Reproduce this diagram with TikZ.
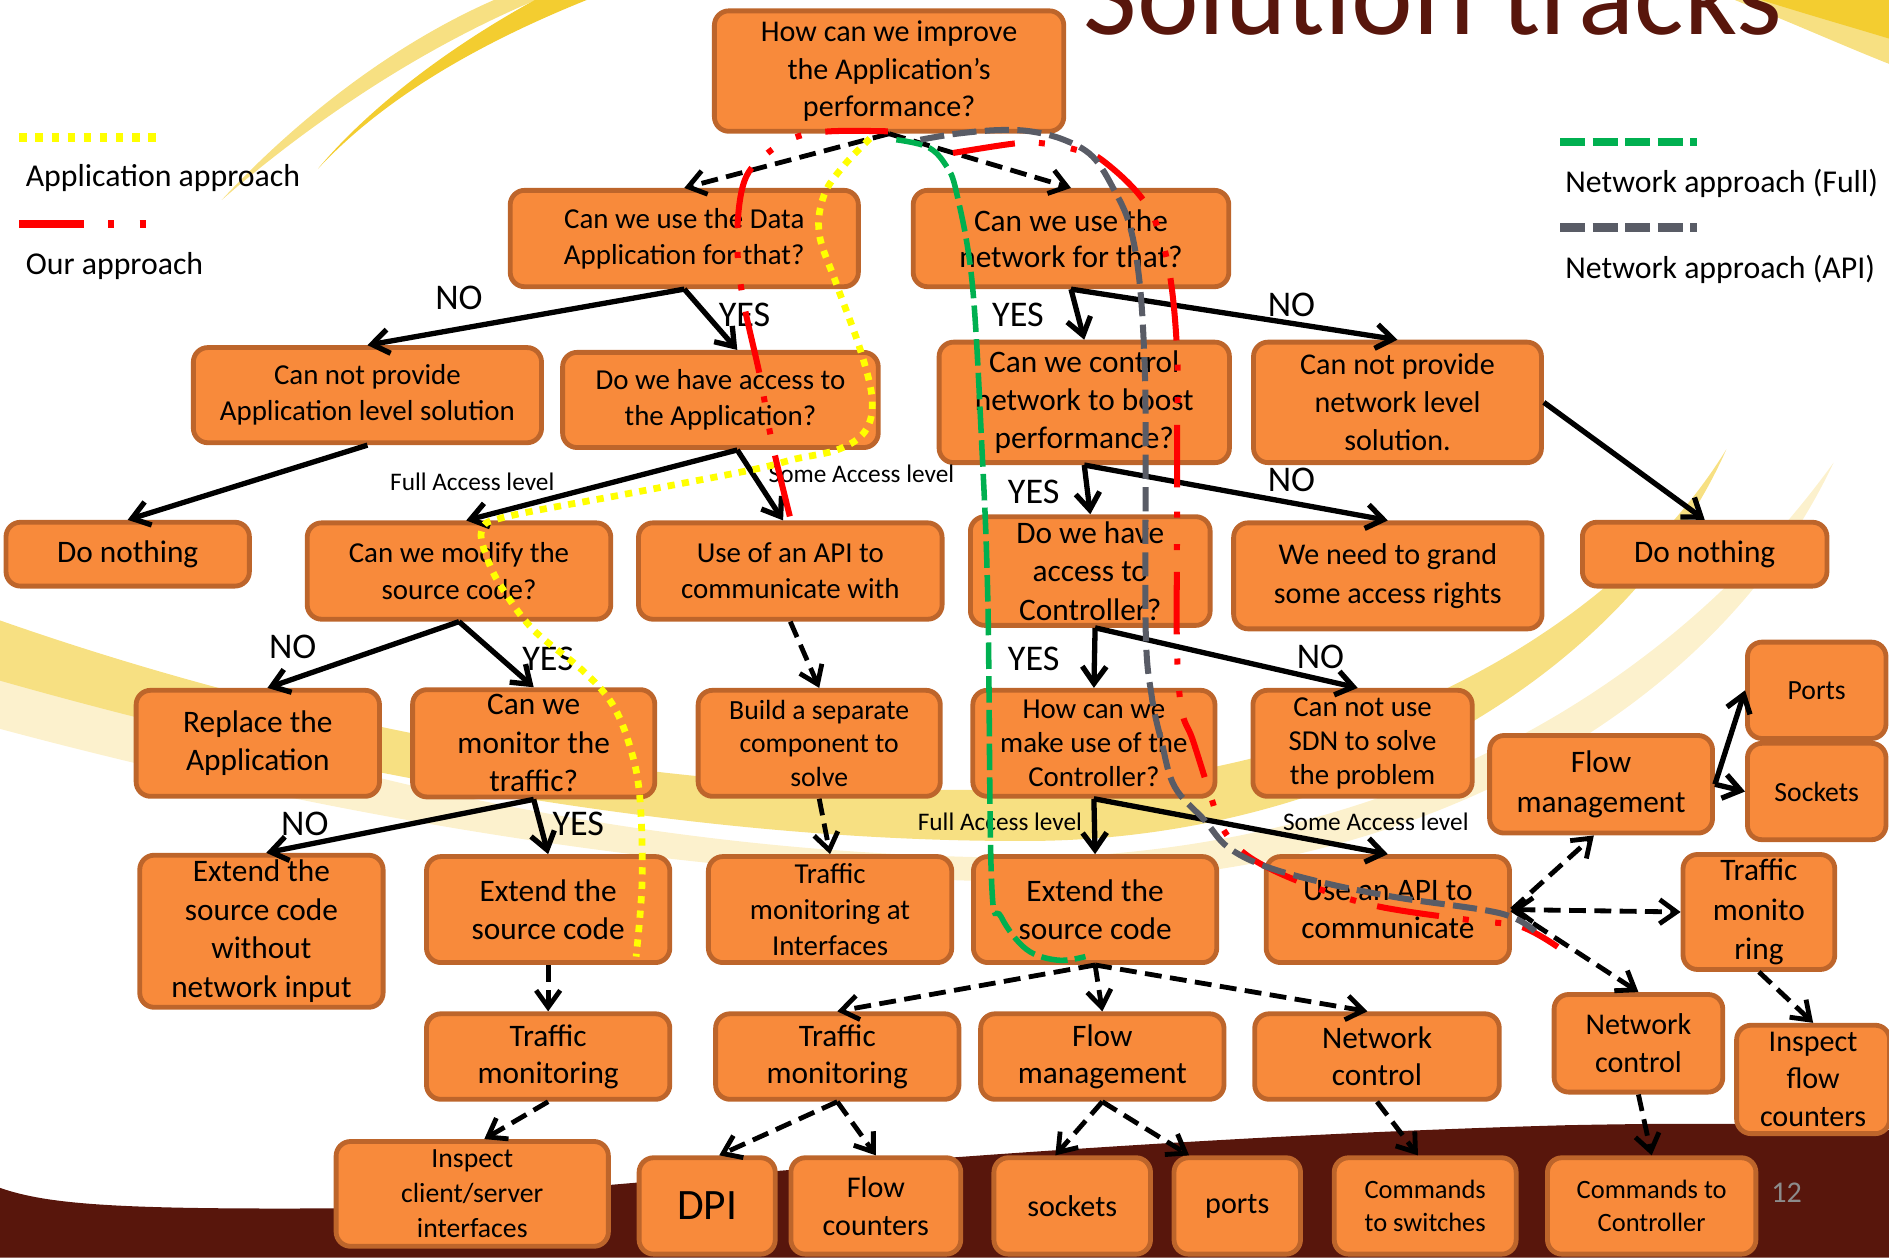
\documentclass[tikz,border=0pt]{standalone}
\usepackage{fontspec}
\setmainfont{Carlito}
\usepackage{tikz}
\usetikzlibrary{arrows.meta,arrows}
\definecolor{boxfill}{RGB}{248,138,59}
\definecolor{boxline}{RGB}{189,101,43}
\definecolor{darkbrown}{RGB}{88,22,12}
\definecolor{swooshdark}{RGB}{243,205,48}
\definecolor{swooshlight}{RGB}{247,224,130}
\definecolor{swooshpale}{RGB}{252,241,205}
\definecolor{appyellow}{RGB}{255,255,0}
\definecolor{ourred}{RGB}{255,0,0}
\definecolor{fullgreen}{RGB}{0,176,80}
\definecolor{apigray}{RGB}{89,92,102}
\definecolor{pagegray}{RGB}{140,140,140}
\tikzset{
  fs/.style 2 args={font=\fontsize{#1}{#2}\selectfont},
  box/.style={draw=boxline, fill=boxfill, line width=2pt, rounded corners=6pt,
    align=center, inner sep=2pt, fs={12}{15}},
  yesno/.style={inner sep=0pt, fs={15}{18}},
  lvl/.style={inner sep=0pt, fs={10.5}{12}},
  legtxt/.style={inner sep=0pt, anchor=west, fs={13.2}{15}},
  solidarr/.style={line width=2.2pt, ->},
  dasharr/.style={line width=2pt, dash pattern=on 7pt off 3.5pt, ->},
  dasharrboth/.style={line width=2pt, dash pattern=on 7pt off 3.5pt, <->},
  apppath/.style={appyellow, line width=2.8pt, dash pattern=on 3pt off 3pt},
  ourpath/.style={ourred, line width=2.5pt, dash pattern=on 26pt off 10pt on 2.5pt off 11pt on 2.5pt off 9pt},
  fullpath/.style={fullgreen, line width=2.3pt, dash pattern=on 11pt off 3pt},
  apipath/.style={apigray, line width=2.5pt, dash pattern=on 10pt off 3.5pt}
}
\begin{document}
\begin{tikzpicture}[x=0.5pt, y=-0.5pt, >={Straight Barb[length=7pt,width=10pt]}]
\useasboundingbox (0,0) rectangle (1568,1044);
\clip (0,0) rectangle (1568,1044);

% background
\fill[swooshlight] (184,166) .. controls (250,95) and (330,35) .. (410,0) -- (445,0) .. controls (350,40) and (260,100) .. (184,166) -- cycle;
\fill[swooshdark] (264,140) .. controls (310,85) and (380,35) .. (444,0) -- (487,0) .. controls (400,35) and (320,80) .. (264,140) -- cycle;
\fill[swooshlight] (1440,0) .. controls (1490,20) and (1530,38) .. (1568,53) -- (1568,0) -- cycle;
\fill[swooshdark] (1462,0) .. controls (1500,12) and (1535,22) .. (1568,32) -- (1568,0) -- cycle;
\fill[swooshpale] (0,545) .. controls (300,665) and (600,712) .. (860,712) .. controls (1150,705) and (1380,580) .. (1522,384) .. controls (1420,600) and (1160,735) .. (860,732) .. controls (580,730) and (280,680) .. (0,605) -- cycle;
\fill[swooshlight] (0,515) .. controls (300,620) and (600,662) .. (860,655) .. controls (1100,645) and (1330,540) .. (1433,373) .. controls (1350,560) and (1120,695) .. (860,698) .. controls (600,700) and (300,650) .. (0,565) -- cycle;
\fill[darkbrown] (0,986) .. controls (40,1000) and (100,1004) .. (280,1003) .. controls (500,985) and (900,945) .. (1300,934) .. controls (1450,931) and (1520,934) .. (1568,938) -- (1568,1044) -- (0,1044) -- cycle;

\node[anchor=base west, inner sep=0pt, text=darkbrown, fs={48.5}{48.5}] (title) at (899,29) {Solution tracks};
\node[text=pagegray, inner sep=0pt, fs={12.5}{15}] (pageno) at (1483,990) {12};

% legend
\draw[appyellow, line width=3.5pt, dash pattern=on 3pt off 3.7pt] (16,114) -- (130,114);
\node[legtxt] (applegend) at (21,148) {Application approach};
\draw[ourred, line width=3.5pt, dash pattern=on 27pt off 10pt on 2.5pt off 10.5pt on 2.5pt off 20pt] (16,186) -- (122,186);
\node[legtxt] (ourlegend) at (21,221) {Our approach};
\draw[fullgreen, line width=3.5pt, dash pattern=on 10.5pt off 3pt on 10.5pt off 3pt on 10.5pt off 3pt on 10.5pt off 3pt on 3pt off 10pt] (1295,118) -- (1409,118);
\node[legtxt] (fulllegend) at (1299,152) {Network approach (Full)};
\draw[apigray, line width=3.5pt, dash pattern=on 10.5pt off 3pt on 10.5pt off 3pt on 10.5pt off 3pt on 10.5pt off 3pt on 3pt off 10pt] (1295,189) -- (1409,189);
\node[legtxt] (apilegend) at (1299,224) {Network approach (API)};

% boxes
\node[box, fs={12.5}{15.75}, minimum width=145pt, minimum height=50pt] (top) at (738,59) {How can we improve\\the Application’s\\performance?};
\node[box, minimum width=144.5pt, minimum height=40pt] (dataapp) at (568,198) {Can we use the Data\\Application for that?};
\node[box, fs={13}{15}, minimum width=131pt, minimum height=40pt] (netuse) at (889,198) {Can we use the\\network for that?};
\node[box, fs={12}{15}, minimum width=144.5pt, minimum height=39.5pt] (noapp) at (305,328) {Can not provide\\Application level solution};
\node[box, minimum width=131pt, minimum height=39.5pt] (access) at (598,332) {Do we have access to\\the Application?};
\node[box, fs={13}{15.75}, minimum width=120.5pt, minimum height=50pt] (control) at (900,334) {Can we control\\network to boost\\performance?};
\node[box, fs={12.5}{15.75}, minimum width=119.5pt, minimum height=50pt] (nonet) at (1160,334) {Can not provide\\network level\\solution.};
\node[box, fs={13}{16}, minimum width=101pt, minimum height=26.5pt] (nothing1) at (106,460) {Do nothing};
\node[box, minimum width=126pt, minimum height=40pt] (modify) at (381,474) {Can we modify the\\source code?};
\node[box, minimum width=126pt, minimum height=40pt] (useapi) at (656,474) {Use of an API to\\communicate with};
\node[box, fs={13}{16}, minimum width=99.5pt, minimum height=45pt] (ctrlaccess) at (905,474) {Do we have\\access to\\Controller?};
\node[box, fs={12.5}{16}, minimum width=128pt, minimum height=44pt] (grant) at (1152,478) {We need to grand\\some access rights};
\node[box, fs={13}{16}, minimum width=101.5pt, minimum height=26.5pt] (nothing2) at (1415,460) {Do nothing};
\node[box, fs={13}{15.5}, minimum width=101pt, minimum height=44pt] (replace) at (214,617) {Replace the\\Application};
\node[box, fs={13}{16}, minimum width=100.5pt, minimum height=44pt] (monitor) at (443,617) {Can we\\monitor the\\traffic?};
\node[box, fs={11.5}{14}, minimum width=100.5pt, minimum height=44pt] (build) at (680,617) {Build a separate\\component to\\solve};
\node[box, fs={12}{14.25}, minimum width=100.5pt, minimum height=44pt] (makeuse) at (908,617) {How can we\\make use of the\\Controller?};
\node[box, fs={12}{14.25}, minimum width=91pt, minimum height=44pt] (nosdn) at (1131,617) {Can not use\\SDN to solve\\the problem};
\node[box, fs={13}{16.5}, minimum width=92.5pt, minimum height=40.5pt] (flowmgmt2) at (1329,651) {Flow\\management};
\node[box, fs={11.5}{14}, minimum width=57.5pt, minimum height=40pt] (ports) at (1508,573) {Ports};
\node[box, fs={11.5}{14}, minimum width=57.5pt, minimum height=40pt] (sockets) at (1508,657) {Sockets};
\node[box, fs={13}{16}, minimum width=101pt, minimum height=62.5pt] (extnonet) at (217,773) {Extend the\\source code\\without\\network input};
\node[box, fs={13}{16}, minimum width=101pt, minimum height=44pt] (extend1) at (455,755) {Extend the\\source code};
\node[box, fs={12}{14.75}, minimum width=101pt, minimum height=44pt] (trafint) at (689,755) {Traffic\\monitoring at\\Interfaces};
\node[box, fs={13}{16}, minimum width=101pt, minimum height=44pt] (extend2) at (909,755) {Extend the\\source code};
\node[box, fs={13}{16}, minimum width=101pt, minimum height=44pt] (useapi2) at (1152,755) {Use an API to\\communicate};
\node[box, fs={13}{16.25}, minimum width=63pt, minimum height=46.5pt] (trafmon3) at (1460,757) {Traffic\\monito\\ring};
\node[box, fs={13}{15.5}, minimum width=101pt, minimum height=35.5pt] (trafmon1) at (455,877) {Traffic\\monitoring};
\node[box, fs={13}{15.5}, minimum width=101pt, minimum height=35.5pt] (trafmon2) at (695,877) {Traffic\\monitoring};
\node[box, fs={13}{15.5}, minimum width=101pt, minimum height=35.5pt] (flowmgmt) at (915,877) {Flow\\management};
\node[box, fs={13}{15.5}, minimum width=101.5pt, minimum height=35.5pt] (netctrl) at (1143,877) {Network\\control};
\node[box, fs={12.5}{16}, minimum width=70pt, minimum height=40.5pt] (netctrl2) at (1360,866) {Network\\control};
\node[box, fs={12.5}{15.5}, minimum width=63.5pt, minimum height=45pt] (inspectflow) at (1505,896) {Inspect\\flow\\counters};
\node[box, fs={11.5}{14.5}, minimum width=113pt, minimum height=43.5pt] (inspectcs) at (392,991) {Inspect\\client/server\\interfaces};
\node[box, fs={18}{20}, minimum width=56.5pt, minimum height=40pt] (dpi) at (587,1001) {DPI};
\node[box, fs={12.5}{16}, minimum width=70.5pt, minimum height=40pt] (flowcnt) at (727,1001) {Flow\\counters};
\node[box, fs={12.5}{16}, minimum width=65pt, minimum height=40pt] (sockets2) at (890,1001) {sockets};
\node[box, fs={12.5}{16}, minimum width=52.5pt, minimum height=40pt] (ports2) at (1027,1001) {ports};
\node[box, fs={11}{13.5}, minimum width=75.5pt, minimum height=40pt] (cmdsw) at (1183,1001) {Commands\\to switches};
\node[box, fs={11}{13.5}, minimum width=86.5pt, minimum height=40pt] (cmdctrl) at (1371,1001) {Commands to\\Controller};

% decisions
\draw[solidarr] (dataapp.south) -- (noapp.north);
\draw[solidarr] (dataapp.south) -- ([xshift=7pt]access.north);
\draw[solidarr] (netuse.south) -- (control.north);
\draw[solidarr] (netuse.south) -- (nonet.north);
\draw[solidarr] (noapp.south) -- (nothing1.north);
\draw[solidarr] ([xshift=7pt]access.south) -- ([xshift=3pt]modify.north);
\draw[solidarr] ([xshift=7pt]access.south) -- ([xshift=-3pt]useapi.north);
\draw[solidarr] (control.south) -- (ctrlaccess.north);
\draw[solidarr] (control.south) -- (grant.north);
\draw[solidarr] (nonet.east) -- (nothing2.north);
\draw[solidarr] (modify.south) -- ([xshift=4pt]replace.north);
\draw[solidarr] (modify.south) -- (monitor.north);
\draw[solidarr] ([xshift=2pt]ctrlaccess.south) -- (makeuse.north);
\draw[solidarr] ([xshift=2pt]ctrlaccess.south) -- ([xshift=-2pt]nosdn.north);
\draw[solidarr] (monitor.south) -- ([xshift=2pt]extnonet.north);
\draw[solidarr] (monitor.south) -- (extend1.north);
\draw[solidarr] (makeuse.south) -- (extend2.north);
\draw[solidarr] (makeuse.south) -- (useapi2.north);
\draw[solidarr] (flowmgmt2.east) -- (ports.west);
\draw[solidarr] (flowmgmt2.east) -- (sockets.west);

\draw[dasharr] (top.south) -- (dataapp.north);
\draw[dasharr] (top.south) -- (netuse.north);
\draw[dasharr] (useapi.south) -- (build.north);
\draw[dasharr] (build.south) -- (trafint.north);
\draw[dasharr] (extend1.south) -- (trafmon1.north);
\draw[dasharr] (trafmon1.south) -- ([xshift=5pt]inspectcs.north);
\draw[dasharr] (extend2.south) -- (trafmon2.north);
\draw[dasharr] (extend2.south) -- (flowmgmt.north);
\draw[dasharr] (extend2.south) -- ([xshift=-4pt]netctrl.north);
\draw[dasharr] (trafmon2.south) -- ([xshift=5pt]dpi.north);
\draw[dasharr] (trafmon2.south) -- (flowcnt.north);
\draw[dasharr] (flowmgmt.south) -- ([xshift=-7pt]sockets2.north);
\draw[dasharr] (flowmgmt.south) -- ([xshift=-20pt]ports2.north);
\draw[dasharr] (netctrl.south) -- ([xshift=-3pt]cmdsw.north);
\draw[dasharr] (useapi2.east) -- ([xshift=-3pt]flowmgmt2.south);
\draw[dasharrboth] (useapi2.east) -- (trafmon3.west);
\draw[dasharr] (useapi2.east) -- (netctrl2.north);
\draw[dasharr] (trafmon3.south) -- (inspectflow.north);
\draw[dasharr] (netctrl2.south) -- (cmdctrl.north);

\node[yesno] (no1) at (381,247) {NO};
\node[yesno] (yes1) at (618,261) {YES};
\node[yesno] (yes2) at (845,261) {YES};
\node[yesno] (no2) at (1072,253) {NO};
\node[lvl] (full1) at (392,400) {Full Access level};
\node[lvl] (some1) at (715,393) {Some Access level};
\node[yesno] (yes3) at (858,408) {YES};
\node[yesno] (no3) at (1072,398) {NO};
\node[yesno] (no4) at (243,537) {NO};
\node[yesno] (yes4) at (455,547) {YES};
\node[yesno] (yes5) at (858,547) {YES};
\node[yesno] (no5) at (1096,545) {NO};
\node[yesno] (no6) at (253,684) {NO};
\node[yesno] (yes6) at (480,684) {YES};
\node[lvl] (full2) at (830,682) {Full Access level};
\node[lvl] (some2) at (1142,682) {Some Access level};

% tracks
\draw[apppath] plot[smooth, tension=0.6] coordinates {(722,115) (700,138) (684,162) (680,194) (694,235) (714,290) (724,332) (718,358) (696,373) (660,381) (624,390) (520,410) (420,429) (400,440) (405,465) (418,490) (443,523) (483,556) (508,584) (523,620) (531,661) (533,731) (528,794)};
\draw[ourpath] plot[smooth, tension=0.6] coordinates {(737,109) (689,109) (660,114) (636,128) (618,150) (612,194) (616,244) (631,313) (641,368) (659,442)};
\draw[ourpath] plot[smooth, tension=0.6] coordinates {(791,127) (843,119) (866,119) (892,124) (915,133) (951,169) (969,217) (977,290) (977,365) (977,440) (977,540) (981,590) (990,614) (1005,661) (1014,686) (1030,706) (1056,722) (1098,739) (1147,753) (1222,764) (1262,769) (1293,786)};
\draw[fullpath] plot[smooth, tension=0.6] coordinates {(744,116) (770,122) (785,137) (794,160) (807,235) (815,371) (820,500) (823,730) (831,761) (852,788) (878,797) (901,794)};
\draw[apipath] plot[smooth, tension=0.6] coordinates {(764,116) (794,111) (828,108) (855,109) (883,116) (907,130) (925,158) (938,188) (946,235) (950,300) (951,371) (951,523) (956,578) (964,615) (975,653) (1000,681) (1019,703) (1050,719) (1100,733) (1160,745) (1245,758) (1274,773)};
\end{tikzpicture}
\end{document}
